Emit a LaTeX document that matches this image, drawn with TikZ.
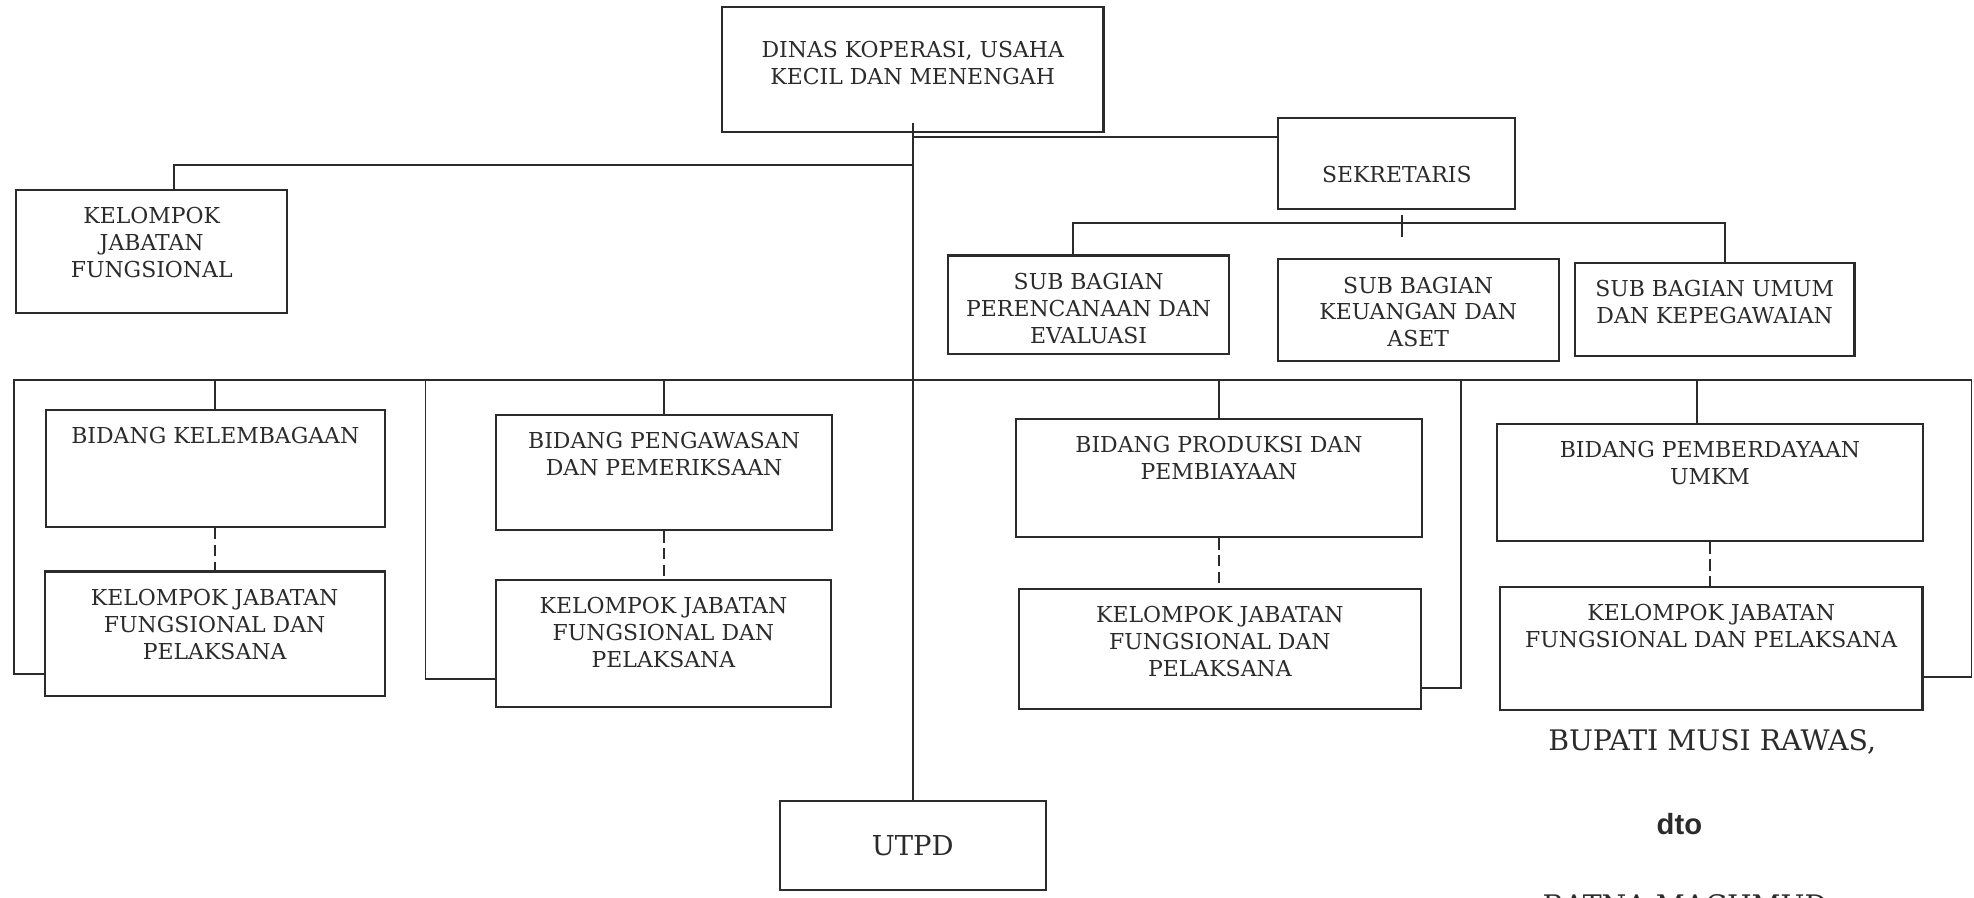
\documentclass[tikz,border=0pt]{standalone}
\usepackage{fontspec}
\setmainfont{DejaVu Serif}
\newfontfamily\signsans{Liberation Sans}
\usepackage{xcolor}
\usepackage{tikz}
\usetikzlibrary{positioning}
\definecolor{ink}{HTML}{2B2B2B}

\begin{document}
\begin{tikzpicture}[x=0.025cm,y=-0.025cm,
  unit/.style={draw=ink,line width=1.2pt,inner sep=0pt},
  boxtext/.style={anchor=north,align=center,inner sep=0pt,yshift=-0.36cm,text=ink,font=\fontsize{12.4}{15.2}\selectfont},
  link/.style={draw=ink,line width=1.1pt},
  staff/.style={link,dash pattern=on 6.5pt off 3pt}]
\useasboundingbox (0,0) rectangle (1568,713);
\clip (0,0) rectangle (1568,713);
\node[unit,minimum width=7.575cm,minimum height=2.475cm,label={[boxtext,yshift=-0.33cm]north:{DINAS KOPERASI, USAHA\\KECIL DAN MENENGAH}}] (dinas) at (725,55.25) {};
\node[unit,minimum width=5.375cm,minimum height=2.4375cm,label={[boxtext]north:{KELOMPOK\\JABATAN\\FUNGSIONAL}}] (kjfTop) at (120.5,199.75) {};
\node[unit,minimum width=4.7cm,minimum height=1.8cm,label={[boxtext,yshift=-0.6cm]north:{SEKRETARIS}}] (sek) at (1109.5,130) {};
\node[unit,minimum width=5.5875cm,minimum height=1.95cm,label={[boxtext]north:{SUB BAGIAN\\PERENCANAAN DAN\\EVALUASI}}] (sub1) at (864.75,242) {};
\node[unit,minimum width=5.575cm,minimum height=2.025cm,label={[boxtext]north:{SUB BAGIAN\\KEUANGAN DAN\\ASET}}] (sub2) at (1126.5,246.5) {};
\node[unit,minimum width=5.55cm,minimum height=1.85cm,label={[boxtext]north:{SUB BAGIAN UMUM\\DAN KEPEGAWAIAN}}] (sub3) at (1362,246) {};
\node[unit,minimum width=6.725cm,minimum height=2.325cm,label={[boxtext]north:{BIDANG KELEMBAGAAN}}] (bk) at (171,372) {};
\node[unit,minimum width=6.75cm,minimum height=2.475cm,label={[boxtext]north:{KELOMPOK JABATAN\\FUNGSIONAL DAN\\PELAKSANA}}] (kjf1) at (170.5,503.5) {};
\node[unit,minimum width=6.675cm,minimum height=2.2875cm,label={[boxtext]north:{BIDANG PENGAWASAN\\DAN PEMERIKSAAN}}] (bp) at (527.5,375.25) {};
\node[unit,minimum width=6.65cm,minimum height=2.525cm,label={[boxtext]north:{KELOMPOK JABATAN\\FUNGSIONAL DAN\\PELAKSANA}}] (kjf2) at (527,511) {};
\node[unit,minimum width=8.0625cm,minimum height=2.3375cm,label={[boxtext]north:{BIDANG PRODUKSI DAN\\PEMBIAYAAN}}] (bprod) at (968.25,379.75) {};
\node[unit,minimum width=7.975cm,minimum height=2.375cm,label={[boxtext]north:{KELOMPOK JABATAN\\FUNGSIONAL DAN\\PELAKSANA}}] (kjf3) at (969,515.5) {};
\node[unit,minimum width=8.4625cm,minimum height=2.3375cm,label={[boxtext]north:{BIDANG PEMBERDAYAAN\\UMKM}}] (bpem) at (1358.25,383.25) {};
\node[unit,minimum width=8.3875cm,minimum height=2.45cm,label={[boxtext]north:{KELOMPOK JABATAN\\FUNGSIONAL DAN PELAKSANA}}] (kjf4) at (1359.25,515) {};
\node[unit,minimum width=5.275cm,minimum height=1.775cm,text=ink,font=\fontsize{15.5}{18}\selectfont] (utpd) at (725,671.5) {UTPD};
\node[anchor=base,inner sep=0pt,text=ink,font=\fontsize{16}{19}\selectfont] (bupati) at (1360,596) {BUPATI MUSI RAWAS,};
\node[anchor=base,inner sep=0pt,text=ink,font=\signsans\bfseries\fontsize{16.5}{19}\selectfont] (dto) at (1334,662.5) {dto};
\node[anchor=base west,inner sep=0pt,text=ink,font=\fontsize{16}{19}\selectfont] (ratna) at (1225,727.5) {RATNA MACHMUD};
\coordinate (busL) at (11,302); \coordinate (busR) at (1566,302);
\coordinate (cornerL) at (11,535); \coordinate (cornerR) at (1566,538);
\coordinate (corner2) at (338,539); \coordinate (corner3) at (1160.5,546.5);
\coordinate (toSek) at (725,109); \coordinate (toKjf) at (725,131); \coordinate (kjfDrop) at (138,131);
\coordinate (subL) at (852,177); \coordinate (subR) at (1370,177); \coordinate (subTick) at (1114,177);
\coordinate (pemDrop) at (1348,302);
\draw[link] ([yshift=0.2cm]dinas.south) -- (utpd.north);
\draw[link] (toSek) -- (toSek -| sek.west); \draw[link] (toKjf) -- (kjfDrop) -- (kjfDrop |- kjfTop.north);
\draw[link] ([yshift=0.15cm]subTick) -- ([yshift=-0.275cm]subTick);
\draw[link] (subL |- sub1.north) -- (subL) -- (subR) -- (subR |- sub3.north);
\draw[link] (kjf1.west |- cornerL) -- (cornerL) -- (busL) -- (busR) -- (cornerR) -- (kjf4.east |- cornerR);
\draw[link] (corner2 |- busL) -- (corner2) -- (kjf2.west |- corner2); \draw[link] (corner3 |- busL) -- (corner3) -- (kjf3.east |- corner3);
\draw[link] (bk.north) -- (bk.north |- busL); \draw[link] (bp.north) -- (bp.north |- busL); \draw[link] (bprod.north) -- (bprod.north |- busL); \draw[link] (pemDrop) -- (pemDrop |- bpem.north);
\draw[staff] (bk.south) -- (bk.south |- kjf1.north); \draw[staff] (bp.south) -- (bp.south |- kjf2.north); \draw[staff] (bprod.south) -- (bprod.south |- kjf3.north); \draw[staff] (bpem.south) -- (bpem.south |- kjf4.north);
\end{tikzpicture}
\end{document}
